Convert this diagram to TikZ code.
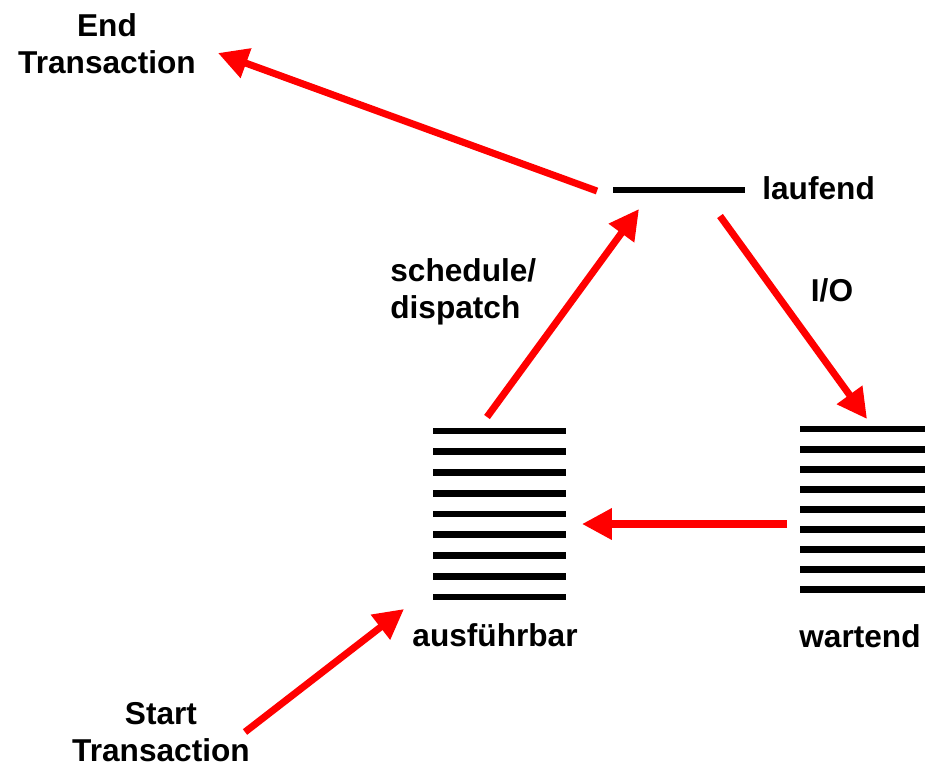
\documentclass[tikz,border=0pt]{standalone}
\usepackage{fontspec}
\setmainfont{Liberation Sans}
\usetikzlibrary{arrows.meta,positioning}
\definecolor{ArrowRed}{HTML}{FF0000}

\begin{document}
\begin{tikzpicture}[x=0.02cm, y=-0.02cm,
  statetext/.style={font=\fontsize{18}{21}\selectfont\bfseries, inner sep=0pt},
  bar/.style={line width=3.9pt, draw=black},
  move/.style={-{Triangle[length=17pt, width=17pt]}, line width=4pt, draw=ArrowRed}
]
\useasboundingbox (0,0) rectangle (925,768);

% running state
\draw[bar] (613,190) -- (745,190);
\node[statetext, anchor=west] (running) at (762,188) {laufend};

% ready queue
\foreach \i in {0,...,8}
  \draw[bar] (433,{431+20.75*\i}) -- (566,{431+20.75*\i});
\node[statetext] (ready) at (495,635) {ausführbar};

% waiting queue
\foreach \i in {0,...,8}
  \draw[bar] (800,{429+20.1*\i}) -- (925,{429+20.1*\i});
\node[statetext] (waiting) at (860,636) {wartend};

\node[statetext, align=center] (endtx) at (107,44) {End\\Transaction};
\node[statetext, align=center] (starttx) at (161,732) {Start\\Transaction};

% arrow ends
\coordinate (runout) at (597,191);
\coordinate (endin) at (218,53);
\coordinate (readyout) at (487,417);
\coordinate (runin) at (639,209);
\coordinate (runio) at (720,216);
\coordinate (waitin) at (867,419);
\coordinate (waitout) at (787,524);
\coordinate (readyin) at (582,524);
\coordinate (startout) at (245,732);
\coordinate (readystart) at (404,609);

\draw[move] (runout) -- (endin);
\draw[move] (readyout) -- (runin);
\draw[move] (runio) -- (waitin);
\draw[move] (waitout) -- (readyin);
\draw[move] (startout) -- (readystart);

\node[statetext, align=left, anchor=west] (dispatch) at (390,292) {schedule/\\dispatch};
\node[statetext] (io) at (832,290) {I/O};

\end{tikzpicture}
\end{document}
